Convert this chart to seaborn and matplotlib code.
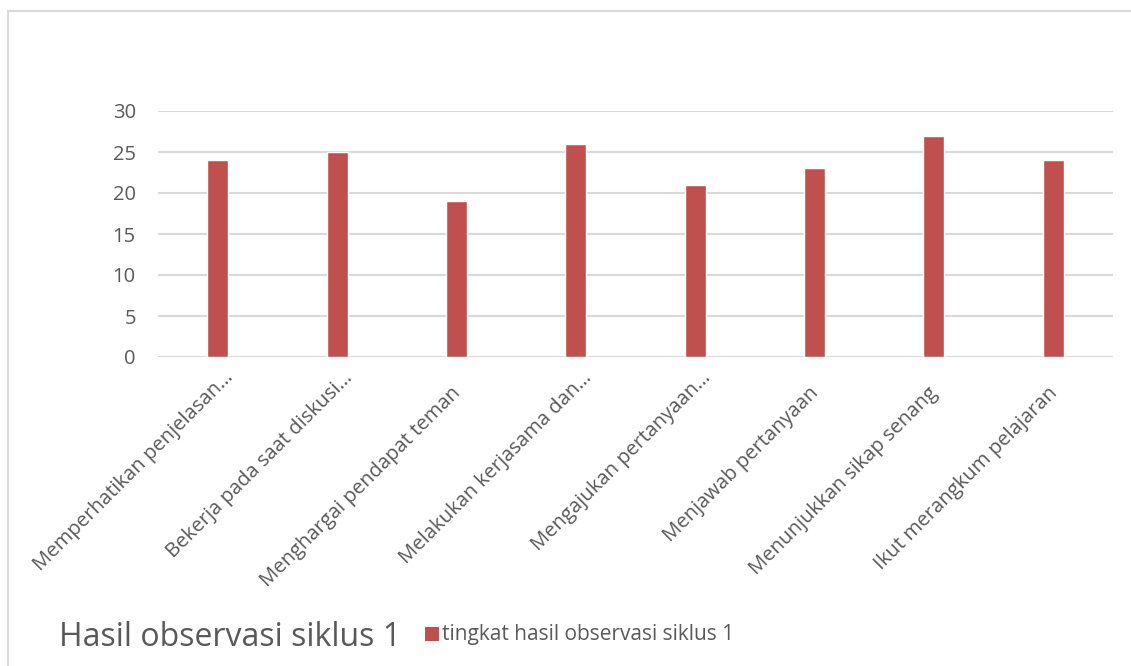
import matplotlib
matplotlib.use("Agg")
import matplotlib.pyplot as plt
import matplotlib.transforms as mtransforms
import seaborn as sns
import pandas as pd
from matplotlib.patches import Rectangle

# data
kategori = [
    "Memperhatikan penjelasan…",
    "Bekerja pada saat diskusi…",
    "Menghargai pendapat teman",
    "Melakukan kerjasama dan…",
    "Mengajukan pertanyaan…",
    "Menjawab pertanyaan",
    "Menunjukkan sikap senang",
    "Ikut merangkum pelajaran",
]
nilai = [24, 25, 19, 26, 21, 23, 27, 24]
seri = "tingkat hasil observasi siklus 1"
judul = "Hasil observasi siklus 1"

df = pd.DataFrame({"kategori": kategori, "nilai": nilai})

sns.set_style("white")
plt.rcParams['font.family'] = ['Open Sans', 'DejaVu Sans']

warna_bar = "#C0504D"
warna_teks = "#595959"
warna_grid = "#D9D9D9"

fig = plt.figure(figsize=(11.31, 6.66), dpi=100)

# chart border
fig.patches.append(Rectangle((8 / 1131, -0.1), 1.2, 1 - 11 / 666 + 0.1,
                             transform=fig.transFigure, fill=False,
                             edgecolor=warna_grid, linewidth=1.5))

ax = fig.add_axes([158 / 1131, 1 - 357 / 666, (1113 - 158) / 1131, (357 - 111) / 666])
sns.barplot(data=df, x="kategori", y="nilai", color=warna_bar, width=0.175,
            saturation=1, ax=ax, zorder=3)

ax.set_ylim(0, 30)
ax.set_xlim(-0.5, len(kategori) - 0.5)
ax.set_yticks(range(0, 31, 5))
ax.yaxis.grid(True, color=warna_grid, linewidth=1.5, zorder=0)
ax.set_axisbelow(True)
for s in ax.spines.values():
    s.set_visible(False)
ax.tick_params(axis="both", length=0, colors=warna_teks, labelsize=14.5)
ax.tick_params(axis="y", pad=16)
ax.set_xlabel("")
ax.set_ylabel("")
ax.set_xticks(range(len(kategori)))
ax.set_xticklabels(kategori, rotation=45, ha="right", va="top",
                   rotation_mode="anchor", fontsize=14.6, color=warna_teks)
for lbl in ax.get_xticklabels():
    # label terpotong (…) sedikit lebih panjang ke kanan atas
    dx, dy = (6, -6) if lbl.get_text().endswith("…") else (-6, -21)
    geser = mtransforms.ScaledTranslation(dx / 100, dy / 100, fig.dpi_scale_trans)
    lbl.set_transform(lbl.get_transform() + geser)

fig.text(59 / 1131, 1 - 646 / 666, judul, fontsize=23, color=warna_teks, va="baseline")
fig.patches.append(Rectangle((425 / 1131, 1 - 641 / 666), 14 / 1131, 14 / 666,
                             transform=fig.transFigure, facecolor=warna_bar, edgecolor="none"))
fig.text(442 / 1131, 1 - 640 / 666, seri, fontsize=15, color=warna_teks, va="baseline")

fig.savefig("out.png", dpi=100)
